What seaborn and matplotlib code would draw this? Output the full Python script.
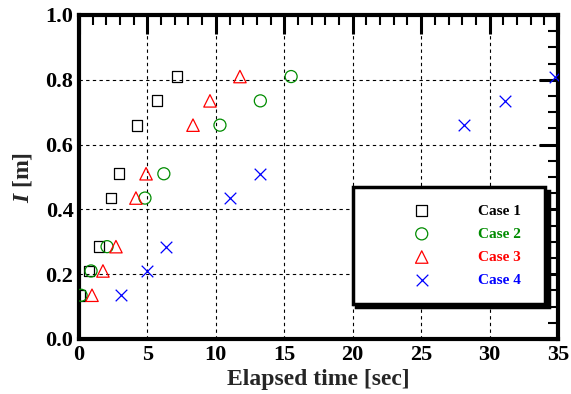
import matplotlib
matplotlib.use("Agg")
import matplotlib.pyplot as plt
import seaborn as sns
import numpy as np
from matplotlib.ticker import MultipleLocator

sns.set_theme(style="white")
plt.rcParams['font.family'] = ['Liberation Serif', 'DejaVu Serif']
plt.rcParams['font.weight'] = 'bold'
plt.rcParams['mathtext.fontset'] = 'custom'
plt.rcParams['mathtext.it'] = 'Liberation Serif:italic:bold'
plt.rcParams['mathtext.rm'] = 'Liberation Serif:bold'

# Data
levels = [0.135, 0.21, 0.285, 0.435, 0.51, 0.66, 0.735, 0.81]
case1_t = [0.07, 0.73, 1.46, 2.34, 2.92, 4.24, 5.7, 7.16]
case2_t = [0.15, 0.88, 2.05, 4.82, 6.2, 10.3, 13.25, 15.5]
case3_t = [0.95, 1.75, 2.7, 4.16, 4.9, 8.33, 9.57, 11.76]
case4_t = [3.07, 4.97, 6.36, 11.03, 13.22, 28.1, 31.1, 34.8]
labels = ["Case 1", "Case 2", "Case 3", "Case 4"]
colors = ["black", "#008c00", "#ff0000", "#0000ff"]
markers = ["s", "o", "^", "x"]
series = [case1_t, case2_t, case3_t, case4_t]

fig = plt.figure(figsize=(5.71, 3.94), dpi=100)
ax = fig.add_axes([79/571, 1-339/394, 479/571, 324/394])

sizes = [60, 75, 80, 70]
for t, lab, c, m, s in zip(series, labels, colors, markers, sizes):
    if m == "x":
        sns.scatterplot(x=t, y=levels, ax=ax, marker=m, color=c, s=s,
                        linewidth=0.9, label=lab, legend=False, zorder=3)
    else:
        sns.scatterplot(x=t, y=levels, ax=ax, marker=m, facecolor="none",
                        edgecolor=c, s=s, linewidth=0.9, label=lab,
                        legend=False, zorder=3)

ax.set_xlim(0, 35)
ax.set_ylim(0, 1.0)
ax.xaxis.set_major_locator(MultipleLocator(5))
ax.xaxis.set_minor_locator(MultipleLocator(1))
ax.yaxis.set_major_locator(MultipleLocator(0.2))
ax.yaxis.set_minor_locator(MultipleLocator(0.05))
ax.yaxis.set_major_formatter(matplotlib.ticker.FormatStrFormatter('%.1f'))

ax.tick_params(which='both', direction='in', top=True, right=True,
               labelsize=16, colors='black')
ax.tick_params(which='major', length=14, width=2.2, pad=4)
ax.tick_params(which='minor', length=7.5, width=1.5)
for lab in ax.get_xticklabels() + ax.get_yticklabels():
    lab.set_fontweight('bold')

for sp in ax.spines.values():
    sp.set_linewidth(3)
    sp.set_color('black')
    sp.set_visible(True)

ax.grid(True, which='major', color='black', linestyle=(0, (3, 3)), linewidth=0.8)
ax.set_axisbelow(True)

ax.set_xlabel("Elapsed time [sec]", fontsize=17, fontweight='bold', labelpad=3)
ax.set_ylabel(r"$\it{I}$ [m]", fontsize=17, fontweight='bold', labelpad=8)

leg = ax.legend(loc='lower left', bbox_to_anchor=(0.572, 0.108, 0.401, 0.358),
                mode='expand', fontsize=11, frameon=True, fancybox=False,
                borderpad=1.1, labelspacing=0.62, handlelength=6.8,
                handletextpad=0.3, borderaxespad=0,
                shadow={'color': 'black', 'alpha': 1, 'ox': 2.5, 'oy': -2.5})
fr = leg.get_frame()
fr.set_edgecolor('black')
fr.set_linewidth(2.5)
fr.set_facecolor('white')
fr.set_alpha(1)
for txt, c in zip(leg.get_texts(), colors):
    txt.set_color(c)
    txt.set_fontweight('bold')

fig.savefig("out.png", dpi=100)
